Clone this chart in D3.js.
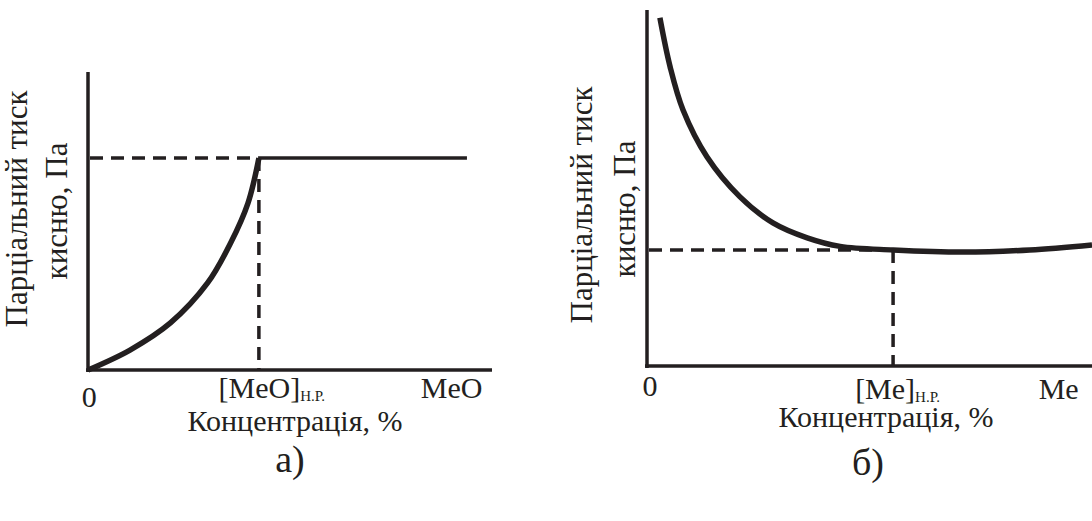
<!DOCTYPE html>
<html>
<head>
<meta charset="utf-8">
<script src="https://cdn.jsdelivr.net/npm/d3@7"></script>
<style>
  html, body { margin: 0; padding: 0; background: #fff; }
  svg text { font-family: "Liberation Serif", "DejaVu Serif", serif; fill: #231f20; }
</style>
</head>
<body>
<div id="chart"></div>
<script>
// data — curve points (x, y in % of axis length)
const curveA = [[0,0],[10.4,6.7],[20.4,15.8],[29.6,29.2],[35.3,42.6],[39.6,56.0],[42.3,71.1]]
const plateauA = [[42.3,71.1],[93.8,71.1]]
const nrA = {x: 42.3, y: 71.1}
const ticksA = [
    {value: 0.3, label: "0", sub: "", dy: 9},
    {value: 45.5, label: "[MeO]", sub: "Н.Р.", dy: 0},
    {value: 90, label: "MeO", sub: "", dy: 0}
]

const curveB = [[2.9,97.8],[5.2,84.0],[8.1,71.9],[13.5,58.7],[20.9,47.5],[28.3,40.2],[36.0,36.0],
    [43.4,33.6],[55.3,32.6],[71.0,32.0],[86.0,32.6],[100,34.0]]
const nrB = {x: 55.3, y: 32.6}
const ticksB = [
    {value: 0.7, label: "0", sub: "", dy: 0},
    {value: 56.3, label: "[Me]", sub: "Н.Р.", dy: 3},
    {value: 92.5, label: "Me", sub: "", dy: 3}
]

const yTitle = ["Парціальний тиск", "кисню, Па"]
const xTitle = "Концентрація, %"
const panelLabels = ["а)", "б)"]

const W = 1092, H = 521
const ink = "#231f20"

const svg = d3.select("#chart").append("svg")
    .attr("width", W)
    .attr("height", H)

function panel(opt){
    const x = d3.scaleLinear().domain([0, 100]).range(opt.xRange)
    const y = d3.scaleLinear().domain([0, 100]).range(opt.yRange)
    const g = svg.append("g")

    // axes (plain lines, no ticks)
    g.append("line")
        .attr("x1", x(0)).attr("x2", x(0))
        .attr("y1", y(0) + 2).attr("y2", y(100))
        .attr("stroke", ink).attr("stroke-width", 3.5)
    g.append("line")
        .attr("x1", x(0) - 2).attr("x2", x(100))
        .attr("y1", y(0)).attr("y2", y(0))
        .attr("stroke", ink).attr("stroke-width", 3.5)

    // dashed guides
    const dash = g.append("g")
        .attr("stroke", ink).attr("stroke-width", 3.5)
        .attr("stroke-dasharray", "13,8")
    dash.append("line")
        .attr("x1", x(0) + 2).attr("x2", x(opt.nr.x))
        .attr("y1", y(opt.nr.y)).attr("y2", y(opt.nr.y))
    dash.append("line")
        .attr("x1", x(opt.nr.x)).attr("x2", x(opt.nr.x))
        .attr("y1", y(opt.nr.y)).attr("y2", y(0))

    const line = d3.line()
        .curve(d3.curveCatmullRom.alpha(0.5))
        .x(d => x(d[0]))
        .y(d => y(d[1]))

    g.append("path")
        .attr("d", line(opt.curve))
        .attr("fill", "none").attr("stroke", ink).attr("stroke-width", 5.5)

    if (opt.plateau) {
        g.append("path")
            .attr("d", d3.line().x(d => x(d[0])).y(d => y(d[1]))(opt.plateau))
            .attr("fill", "none").attr("stroke", ink).attr("stroke-width", 3.5)
    }

    // tick labels
    opt.ticks.forEach(t => {
        const txt = g.append("text")
            .attr("x", x(t.value))
            .attr("y", y(0) + opt.tickOffset + t.dy)
            .attr("text-anchor", "middle")
            .style("font-size", "30px")
        txt.append("tspan").text(t.label)
        if (t.sub) {
            txt.append("tspan")
                .attr("dy", 3)
                .style("font-size", "15px")
                .text(t.sub)
        }
    })

    // x title
    g.append("text")
        .attr("x", opt.xTitleX)
        .attr("y", y(0) + opt.titleOffset)
        .attr("text-anchor", "middle")
        .style("font-size", "30px")
        .text(xTitle)

    // y title, two rotated lines
    yTitle.forEach((s, i) => {
        g.append("text")
            .attr("transform", `translate(${opt.yTitleX[i]},${opt.yTitleY[i]}) rotate(-90)`)
            .attr("text-anchor", "middle")
            .style("font-size", "31px")
            .text(s)
    })

    g.append("text")
        .attr("x", opt.labelX)
        .attr("y", opt.labelY)
        .attr("text-anchor", "middle")
        .style("font-size", "38px")
        .text(opt.label)
}

panel({
    xRange: [88, 492], yRange: [370, 72],
    curve: curveA, plateau: plateauA, nr: nrA, ticks: ticksA,
    tickOffset: 28, titleOffset: 61, xTitleX: 295,
    yTitleX: [27, 67], yTitleY: [209, 211],
    label: panelLabels[0], labelX: 290, labelY: 472
})

panel({
    xRange: [647, 1092], yRange: [366, 10],
    curve: curveB, nr: nrB, ticks: ticksB,
    tickOffset: 30, titleOffset: 61, xTitleX: 886,
    yTitleX: [592, 635], yTitleY: [205, 209],
    label: panelLabels[1], labelX: 868, labelY: 475
})
</script>
</body>
</html>
